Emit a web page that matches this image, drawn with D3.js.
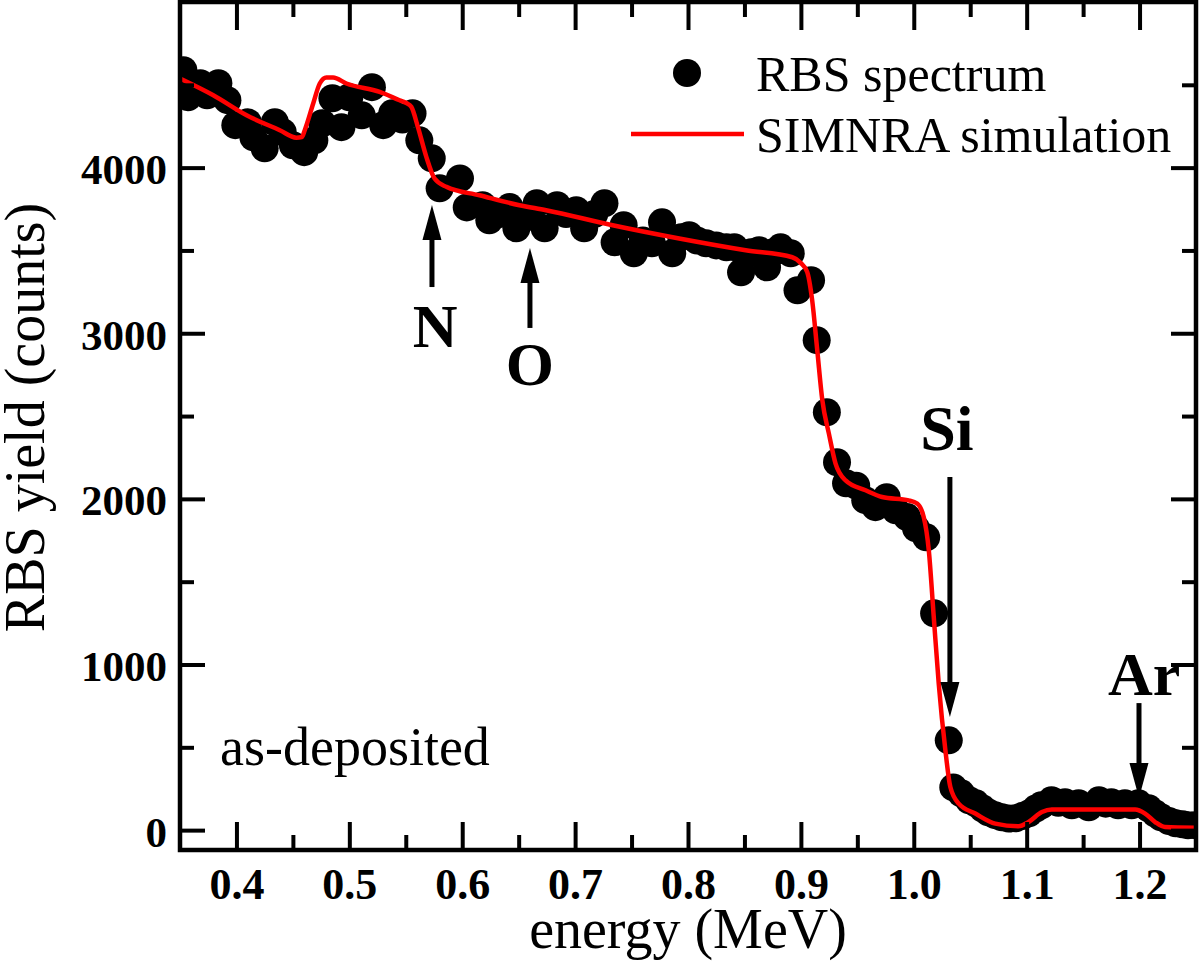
<!DOCTYPE html>
<html>
<head>
<meta charset="utf-8">
<script src="https://cdn.jsdelivr.net/npm/d3@7"></script>
<style>
  html, body { margin: 0; padding: 0; background: #fff; }
  svg { display: block; }
  text { font-family: "Liberation Serif", "Times New Roman", serif; fill: #000; }
</style>
</head>
<body>
<svg id="chart" width="1200" height="964"></svg>
<script>
// ---- data ----
const rbsEnergy = [0.353,0.357,0.368,0.374,0.384,0.392,0.399,0.410,0.415,0.425,0.434,0.441,0.450,0.460,0.469,0.476,0.485,0.493,0.500,0.511,0.520,0.530,0.538,0.547,0.556,0.562,0.573,0.580,0.598,0.604,0.618,0.624,0.633,0.642,0.648,0.657,0.666,0.673,0.684,0.692,0.701,0.708,0.717,0.726,0.735,0.743,0.752,0.760,0.768,0.777,0.786,0.794,0.801,0.808,0.816,0.825,0.834,0.841,0.847,0.856,0.863,0.870,0.876,0.882,0.891,0.897,0.909,0.914,0.923,0.932,0.940,0.949,0.957,0.966,0.976,0.984,0.994,1.002,1.011,1.018,1.031,1.035,1.042,1.049,1.055,1.061,1.066,1.072,1.078,1.084,1.090,1.096,1.102,1.108,1.113,1.122,1.128,1.134,1.140,1.146,1.155,1.164,1.170,1.175,1.181,1.187,1.193,1.199,1.208,1.214,1.219,1.226,1.232,1.238,1.243,1.249];
const rbsCounts = [4588,4425,4510,4437,4510,4407,4256,4274,4183,4117,4274,4214,4135,4093,4165,4268,4419,4244,4425,4316,4486,4256,4328,4290,4328,4165,4056,3875,3935,3760,3773,3682,3720,3762,3634,3700,3785,3634,3773,3720,3743,3634,3720,3785,3549,3652,3483,3560,3543,3670,3483,3580,3592,3560,3543,3530,3519,3520,3368,3489,3501,3398,3490,3519,3483,3259,3320,2958,2523,2221,2094,2080,1992,1950,2010,1931,1890,1822,1768,1309,542,258,222,180,162,130,107,90,77,70,71,85,101,130,150,180,165,168,150,162,138,180,160,168,150,162,150,162,132,100,77,55,41,35,29,30];

const simEnergy = [0.350,0.3795,0.409,0.4384,0.453,0.458,0.4605,0.468,0.4738,0.4797,0.4856,0.4974,0.5269,0.5445,0.5505,0.5549,0.5607,0.5682,0.5755,0.5859,0.6153,0.6507,0.6743,0.7332,0.7922,0.8511,0.8924,0.8998,0.9056,0.910,0.9145,0.919,0.9248,0.9307,0.9396,0.9573,0.972,0.9955,1.003,1.0088,1.0133,1.0177,1.0221,1.028,1.0324,1.0398,1.0545,1.0722,1.0928,1.1017,1.1135,1.1223,1.196,1.2049,1.2138,1.2226,1.250];
const simCounts = [4538,4437,4316,4226,4181,4185,4226,4387,4508,4544,4544,4508,4457,4407,4390,4367,4246,4065,3934,3884,3833,3773,3743,3652,3572,3501,3459,3425,3370,3199,2897,2595,2394,2213,2112,2052,2011,1991,1972,1891,1690,1287,885,482,260,160,100,39,23,49,109,124,124,100,49,19,15];

const xMajorTicks = [0.4,0.5,0.6,0.7,0.8,0.9,1.0,1.1,1.2];
const xMinorTicks = [0.45,0.55,0.65,0.75,0.85,0.95,1.05,1.15];
const xTickLabels = ["0.4","0.5","0.6","0.7","0.8","0.9","1.0","1.1","1.2"];
const yMajorTicks = [0,1000,2000,3000,4000];
const yMinorTicks = [500,1500,2500,3500,4500];
const yTickLabels = ["0","1000","2000","3000","4000"];

const legendLabels = ["RBS spectrum","SIMNRA simulation"];
const annLabels = ["N","O","Si","Ar"];
const annEnergy = [0.5732,0.660,1.032,1.1995];
const annTip    = [3775,3515,683,194];
const annTail   = [3279,3032,2132,767];
const annLabelEnergy = [0.5759,0.660,1.0294,1.204];
const annLabelCounts = [2917,2687,2295,816];
const sampleLabel = "as-deposited";

// ---- layout ----
const L = 180, R = 1196, T = 2, B = 850;
const svg = d3.select("#chart");
const x = d3.scaleLinear().domain([0.35, 1.25]).range([L, R]);
const y = d3.scaleLinear().domain([-120, 5000]).range([B, T]);

svg.append("defs").append("clipPath").attr("id","clip")
  .append("rect").attr("x", L).attr("y", T).attr("width", R-L).attr("height", B-T);

const plot = svg.append("g").attr("clip-path","url(#clip)");

// scatter
const pts = rbsEnergy.map((e,i)=>({e, c: rbsCounts[i]}));
plot.selectAll("circle.pt").data(pts).join("circle")
  .attr("class","pt")
  .attr("cx", d=>x(d.e)).attr("cy", d=>y(d.c)).attr("r", 14)
  .attr("fill","#000");

// simulation line
const sim = simEnergy.map((e,i)=>({e, c: simCounts[i]}));
plot.append("path").datum(sim)
  .attr("fill","none").attr("stroke","#ff0000").attr("stroke-width",4.5)
  .attr("stroke-linejoin","round")
  .attr("d", d3.line().x(d=>x(d.e)).y(d=>y(d.c)).curve(d3.curveMonotoneX));

// axes (ticks inside, on all four sides)
const tickW = 4;
function drawAxis(axisGen, transform, cls) {
  const g = svg.append("g").attr("transform", transform).attr("class", cls).call(axisGen);
  g.select(".domain").remove();
  g.selectAll(".tick line").attr("stroke","#000").attr("stroke-width",tickW);
  return g;
}
const fmtX = (d)=> xTickLabels[xMajorTicks.indexOf(d)];
const fmtY = (d)=> yTickLabels[yMajorTicks.indexOf(d)];

// bottom
const gb = drawAxis(d3.axisBottom(x).tickValues(xMajorTicks).tickSize(-28).tickPadding(0).tickFormat(fmtX), `translate(0,${B})`, "xb");
gb.selectAll(".tick text").attr("font-size",44).attr("font-weight","bold")
  .attr("font-family",'"Liberation Serif", "Times New Roman", serif')
  .attr("y", 49).attr("dy", 0);
drawAxis(d3.axisBottom(x).tickValues(xMinorTicks).tickSize(-15).tickFormat(""), `translate(0,${B})`, "xbm");
// top
drawAxis(d3.axisTop(x).tickValues(xMajorTicks).tickSize(-28).tickFormat(""), `translate(0,${T})`, "xt");
drawAxis(d3.axisTop(x).tickValues(xMinorTicks).tickSize(-15).tickFormat(""), `translate(0,${T})`, "xtm");
// left
const gl = drawAxis(d3.axisLeft(y).tickValues(yMajorTicks).tickSize(-25).tickPadding(0).tickFormat(fmtY), `translate(${L},0)`, "yl");
gl.selectAll(".tick text").attr("font-size",43).attr("font-weight","bold")
  .attr("font-family",'"Liberation Serif", "Times New Roman", serif')
  .attr("x", -13).attr("dy", 0).attr("y", 16);
drawAxis(d3.axisLeft(y).tickValues(yMinorTicks).tickSize(-14).tickFormat(""), `translate(${L},0)`, "ylm");
// right
drawAxis(d3.axisRight(y).tickValues(yMajorTicks).tickSize(-25).tickFormat(""), `translate(${R},0)`, "yr");
drawAxis(d3.axisRight(y).tickValues(yMinorTicks).tickSize(-14).tickFormat(""), `translate(${R},0)`, "yrm");

// frame
svg.append("rect").attr("x",L).attr("y",T).attr("width",R-L).attr("height",B-T)
  .attr("fill","none").attr("stroke","#000").attr("stroke-width",4.5);

// axis titles
svg.append("text").attr("x",(L+R)/2).attr("y",948).attr("text-anchor","middle")
  .attr("font-size",56).text("energy (MeV)");
svg.append("text").attr("transform",`translate(44,${(201+634)/2}) rotate(-90)`).attr("text-anchor","middle")
  .attr("font-size",56).text("RBS yield (counts)");

// legend
svg.append("circle").attr("cx",687).attr("cy",73).attr("r",14).attr("fill","#000");
svg.append("line").attr("x1",631).attr("x2",744).attr("y1",134).attr("y2",134)
  .attr("stroke","#ff0000").attr("stroke-width",4.5);
svg.append("text").attr("x",756).attr("y",91).attr("font-size",50).text(legendLabels[0]);
svg.append("text").attr("x",756).attr("y",152).attr("font-size",50).text(legendLabels[1]);

// annotations with arrows
const headLen = 35, headW = 19;
annLabels.forEach((lab,i)=>{
  const ax = x(annEnergy[i]);
  const tipY = y(annTip[i]), tailY = y(annTail[i]);
  const dir = tipY < tailY ? -1 : 1; // -1: arrow points up
  const baseY = tipY - dir*headLen;
  svg.append("line").attr("x1",ax).attr("x2",ax).attr("y1",tailY).attr("y2",baseY + dir*2)
    .attr("stroke","#000").attr("stroke-width",5);
  svg.append("path").attr("d",`M${ax},${tipY} L${ax-headW/2},${baseY} L${ax+headW/2},${baseY} Z`)
    .attr("fill","#000");
  svg.append("text").attr("x", x(annLabelEnergy[i])).attr("y", y(annLabelCounts[i]))
    .attr("text-anchor","middle").attr("font-weight","bold")
    .attr("font-size", lab === "Si" ? 64 : 62).text(lab);
});

svg.append("text").attr("x", x(0.3854)).attr("y", y(393)).attr("font-size",54).text(sampleLabel);
</script>
</body>
</html>
